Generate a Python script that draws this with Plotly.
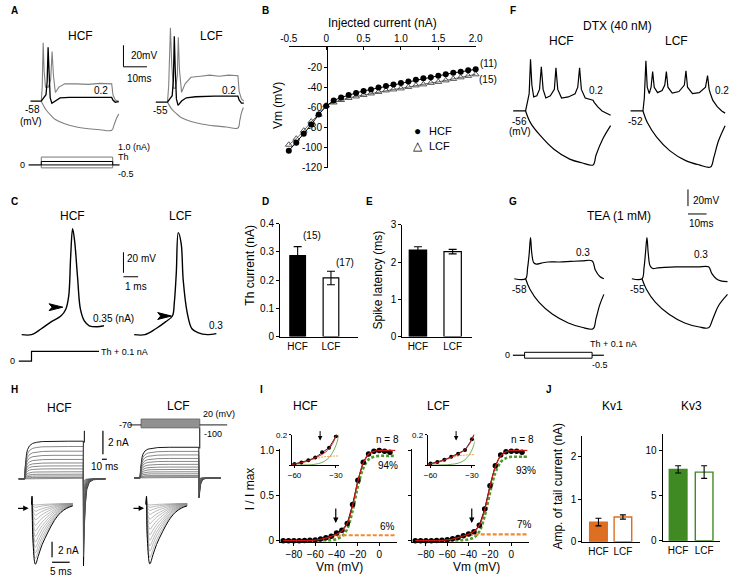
import plotly.graph_objects as go

W, H = 739, 582
FONT = "Liberation Sans, Arial, Helvetica, sans-serif"

# ======================= DATA =======================
# ---- Panel A : membrane potential (ms from pulse onset, mV) ----
A_hcf_t_02 = [-4.6, 0, 1.0, 2.0, 2.5, 2.9, 3.3, 3.8, 4.5, 6, 8, 12, 20, 30, 30.5, 31.5, 33]
A_hcf_v_02 = [-58, -58, -55, -52, -40, -8, -30, -55, -60, -58, -55, -54.5, -54.5, -54.5, -57, -59, -58.5]
A_hcf_t_10 = [0, 0.4, 0.8, 1.2, 1.8, 3.0, 4.0, 4.6, 5.2, 6.0, 7.5, 10, 15, 20, 25, 30, 30.5, 31.5, 33]
A_hcf_v_10 = [-58, -45, -4, -30, -45, -45, -38, -12, -35, -50, -45, -42, -42, -42.5, -41.5, -42, -52, -57, -58]
A_hcf_t_neg = [0, 2, 4, 6, 10, 15, 20, 25, 30, 31, 32, 33]
A_hcf_v_neg = [-58, -66, -71, -75, -79, -82, -83.5, -84.5, -85, -80, -74, -70]

A_lcf_t_02 = [-5, 0, 1.0, 2.0, 2.5, 2.9, 3.3, 3.8, 4.5, 6, 8, 12, 20, 30, 30.5, 31.5, 32.5]
A_lcf_v_02 = [-55, -55, -52, -49, -35, 6, -25, -52, -58, -54, -51, -50, -49.5, -49.5, -53, -56, -56]
A_lcf_t_10 = [0, 0.5, 1.25, 1.8, 2.5, 3.5, 4.2, 4.6, 5.1, 6, 7.5, 10, 14, 18, 22, 26, 30, 30.5, 31.5, 32.5]
A_lcf_v_10 = [-55, -40, 14, -20, -42, -42, -30, 5, -25, -46, -38, -32, -31, -30, -31, -30, -30.5, -45, -52, -54]
A_lcf_t_neg = [0, 2, 4, 6, 10, 15, 20, 25, 30, 30.8, 31.5, 32.3]
A_lcf_v_neg = [-55, -62, -66, -69.5, -73, -75.5, -77, -78, -79, -72, -65, -60]

# ---- Panel B : I-V relation ----
B_current = [-0.5, -0.4, -0.3, -0.2, -0.1, 0.0, 0.1, 0.2, 0.3, 0.4, 0.5, 0.6, 0.7, 0.8, 0.9,
             1.0, 1.1, 1.2, 1.3, 1.4, 1.5, 1.6, 1.7, 1.8, 1.9, 2.0]
B_vm_hcf = [-103, -95, -86, -77, -67, -58.5, -53, -50, -47.5, -45.5, -43.5, -42, -40, -38.5, -37,
            -35.5, -34, -32.5, -31, -30, -28.5, -27, -25.5, -24.5, -23, -22]
B_vm_lcf = [-97, -91, -83, -74, -67, -58, -55, -52.5, -50.5, -49, -47.5, -46, -44.5, -43, -42,
            -41, -39.5, -38, -37, -35.5, -34.5, -33, -31.5, -30, -28.5, -27]

# ---- Panel C : single spikes (ms from step, mV) ----
C_hcf_t = [-0.625, 0, 0.625, 1.25, 1.875, 2.19, 2.375, 2.5, 2.625, 2.75, 2.94, 3.125, 3.375, 3.69, 4.19, 4.625]
C_hcf_v = [-58, -58, -52.3, -45.6, -40, -33.3, -20.9, 17.2, 44.9, 33.5, -1.8, -33.3, -44.7, -49.4, -50.4, -49.4]
C_lcf_t = [-0.69, 0, 0.69, 1.31, 1.75, 1.875, 2.0, 2.125, 2.31, 2.44, 2.69, 3.0, 3.375, 4.0, 4.56]
C_lcf_v = [-55, -55, -49.3, -42.6, -36.9, -23.6, 5, 44, 33.6, -1.7, -33.1, -49.3, -53, -55, -54]

# ---- Panels D, E : bar charts ----
groups = ["HCF", "LCF"]
D_th_current = [0.287, 0.208]
D_th_err = [0.032, 0.024]
E_latency = [2.32, 2.28]
E_latency_err = [0.09, 0.06]

# ---- Panel F : DTX traces ----
F_hcf_t_dep = [-5.5, 0, 0.8, 1.6, 2.2, 2.8, 3.6, 5, 6.2, 7.0, 7.8, 9, 11, 12.8, 13.5, 14.3, 16, 19, 22,
               23.2, 24, 24.8, 26.5, 29, 30, 30.5, 32, 34, 36, 37.8]
F_hcf_v_dep = [-56, -56, -48, -40, -8, -32, -43, -42, -36, -15, -36, -44, -42, -36, -16, -36, -44, -43, -40,
               -34, -16, -36, -44, -45, -46, -48, -52, -56, -58.5, -60]
F_hcf_t_neg = [0, 2.2, 6.5, 12.6, 19.6, 25, 30, 31.3, 34.3, 37.8]
F_hcf_v_neg = [-56, -67, -78.7, -91.5, -100.6, -104, -106, -97, -82, -69.6]
F_lcf_t_dep = [-5.5, 0, 0.6, 1.3, 1.9, 2.8, 3.6, 4.3, 5.0, 6.5, 8.5, 9.7, 10.4, 11.1, 13, 16, 18.4, 19.1,
               19.8, 22, 25, 27.8, 28.7, 29.4, 30, 31, 33, 35, 36.5]
F_lcf_v_dep = [-52, -52, -40, -5.6, -30, -36, -30, -15.6, -30, -35, -33, -28, -15.6, -30, -35.5, -34, -28, -14.7,
               -30, -36, -35, -30, -19.3, -32, -36, -42, -48, -52, -54]
F_lcf_t_neg = [0, 2, 6, 12, 19, 25, 30, 31.5, 33.5, 36.5]
F_lcf_v_neg = [-52, -63, -76, -89, -98, -102, -104, -95, -80, -65.6]

# ---- Panel G : TEA traces ----
G_hcf_t_dep = [-5, 0, 0.9, 1.6, 2.2, 2.8, 3.6, 4.8, 7, 10, 15, 20, 25, 29.6, 31, 33, 34.8]
G_hcf_v_dep = [-58, -58, -48, -35, -20, -35, -43, -44.4, -43.5, -42.5, -42.5, -42, -41.5, -41.5, -50, -56, -58]
G_hcf_t_neg = [0, 2, 6, 12, 19, 25, 30, 31.3, 33, 34.8]
G_hcf_v_neg = [-58, -68, -80, -91, -99, -103, -104.4, -95, -82, -72.5]
G_lcf_t_dep = [-4.5, 0, 0.9, 1.6, 2.2, 2.8, 3.6, 4.8, 7, 10, 15, 20, 25, 29.6, 31, 33, 35, 38]
G_lcf_v_dep = [-55, -55, -45, -30, -16.8, -32, -43, -45.5, -45, -44.5, -44, -44, -44, -44, -50, -55, -57, -57.7]
G_lcf_t_neg = [0, 2, 6, 12, 19, 25, 29.6, 31.5, 34, 38]
G_lcf_v_neg = [-55, -65, -77, -88, -96, -99.5, -100.5, -92, -80, -69.5]

# ---- Panel H : K+ currents (nA) ----
H_rise_t = [0, 1, 2, 4, 6, 10, 16, 24, 36, 60, 90, 120]
H_rise_shape = [0, 0.3, 0.5, 0.68, 0.78, 0.88, 0.94, 0.97, 0.99, 1.0, 1.0, 1.0]
H_tailmain_t = [0.3, 1, 2, 4, 7, 12, 20, 45]
H_tailmain_shape = [1.0, 0.8, 0.55, 0.3, 0.12, 0.04, 0.01, 0]
H_hcf_steady = [3.2, 2.75, 2.35, 2.0, 1.65, 1.35, 1.1, 0.85, 0.6, 0.4, 0.25, 0.12, 0.05]
H_hcf_tail_main = [7.4, 6.6, 5.8, 5.0, 4.3, 3.6, 2.9, 2.3, 1.7, 1.2, 0.8, 0.4, 0.2]
H_lcf_steady = [2.6, 2.25, 1.95, 1.65, 1.4, 1.15, 0.92, 0.72, 0.52, 0.35, 0.2, 0.1, 0.04]
H_lcf_tail_main = [1.7, 1.5, 1.3, 1.15, 1.0, 0.85, 0.7, 0.55, 0.42, 0.3, 0.2, 0.1, 0.05]
H_tail_t = [0, 0.15, 0.4, 1.1, 2, 3, 4.7, 6.5, 8.3, 10, 11.7]
H_tail_shape = [0.02, -0.12, 0.6, 1.0, 0.85, 0.68, 0.47, 0.28, 0.15, 0.08, 0.04]
H_hcf_tail = [7.75, 7.0, 6.3, 5.6, 4.9, 4.2, 3.5, 2.8, 2.1, 1.5, 1.0, 0.5, 0.2]
H_lcf_tail = [7.7, 6.9, 6.1, 5.4, 4.7, 4.0, 3.3, 2.6, 2.0, 1.4, 0.9, 0.5, 0.2]

# ---- Panel I : activation curves ----
I_vm = [-90, -85, -80, -75, -70, -65, -60, -55, -50, -45, -40, -35, -30, -25, -20, -15, -10, -5, 0, 5, 10]
I_hcf = [0, 0, 0, 0, 0.002, 0.004, 0.008, 0.018, 0.032, 0.05, 0.085, 0.115, 0.19, 0.40, 0.67, 0.87, 0.96, 0.99, 1.0, 0.99, 0.98]
I_lcf = [0, 0, 0, 0, 0.002, 0.005, 0.01, 0.02, 0.035, 0.055, 0.075, 0.10, 0.17, 0.35, 0.61, 0.83, 0.95, 0.985, 0.99, 0.99, 0.98]
I_vfit = [-90, -85, -80, -75, -70, -65, -60, -55, -50, -45, -40, -35, -30, -25, -20, -15, -10, -5, 0, 5, 10, 15]
I_hcf_fit = [0, 0, 0, 0, 0.001, 0.003, 0.007, 0.016, 0.029, 0.048, 0.071, 0.108, 0.19, 0.39, 0.66, 0.86, 0.96, 0.99, 1.0, 1.0, 1.0, 1.0]
I_hcf_kv3 = [0, 0, 0, 0, 0, 0, 0, 0.001, 0.002, 0.006, 0.018, 0.05, 0.13, 0.33, 0.60, 0.80, 0.90, 0.93, 0.94, 0.94, 0.94, 0.94]
I_hcf_kv1 = [0, 0, 0, 0, 0.001, 0.003, 0.007, 0.015, 0.027, 0.042, 0.053, 0.058, 0.06, 0.06, 0.06, 0.06, 0.06, 0.06, 0.06, 0.06, 0.06, 0.06]
I_lcf_fit = [0, 0, 0, 0, 0.001, 0.003, 0.008, 0.018, 0.033, 0.052, 0.073, 0.102, 0.169, 0.34, 0.60, 0.82, 0.94, 0.985, 1.0, 1.0, 1.0, 1.0]
I_lcf_kv3 = [0, 0, 0, 0, 0, 0, 0, 0.001, 0.002, 0.005, 0.013, 0.036, 0.10, 0.27, 0.53, 0.75, 0.87, 0.915, 0.93, 0.93, 0.93, 0.93]
I_lcf_kv1 = [0, 0, 0, 0, 0.001, 0.003, 0.008, 0.017, 0.031, 0.047, 0.06, 0.066, 0.069, 0.07, 0.07, 0.07, 0.07, 0.07, 0.07, 0.07, 0.07, 0.07]

# ---- Panel J : tail current amplitudes ----
J_kv1 = [0.46, 0.58]
J_kv1_err = [0.09, 0.05]
J_kv3 = [7.9, 7.6]
J_kv3_err = [0.4, 0.7]

ORANGE = "#dd6e22"
ORANGE_D = "#f08a2c"
GREEN = "#3f8a22"
GREEN_D = "#4f9a2a"
RED = "#d01515"
GRAY = "#808080"

# ======================= HELPERS =======================
fig = go.Figure()
layout = {}
shapes = []
annotations = []
axn = [0]


def add_axes(px, py, xr, yr, xkw=None, ykw=None):
    axn[0] += 1
    n = axn[0]
    s = '' if n == 1 else str(n)
    xa = dict(domain=[px[0] / W, px[1] / W], range=xr, anchor='y' + s, visible=False,
              showgrid=False, zeroline=False, fixedrange=True)
    ya = dict(domain=[1 - py[1] / H, 1 - py[0] / H], range=yr, anchor='x' + s, visible=False,
              showgrid=False, zeroline=False, fixedrange=True)
    if xkw:
        xa.update(xkw)
    if ykw:
        ya.update(ykw)
    layout['xaxis' + s] = xa
    layout['yaxis' + s] = ya
    return 'x' + s, 'y' + s


def trace_axes(px, py, x0px, x0, ppx, y0px, y0, ppy):
    xr = [x0 + (px[0] - x0px) / ppx, x0 + (px[1] - x0px) / ppx]
    yr = [y0 - (py[1] - y0px) / ppy, y0 + (y0px - py[0]) / ppy]
    return add_axes(px, py, xr, yr)


def vis_axis(**kw):
    d = dict(visible=True, showline=True, linecolor='black', linewidth=1, ticks='outside',
             ticklen=3, tickwidth=1, tickcolor='black', tickfont=dict(size=10, family=FONT, color='black'))
    d.update(kw)
    return d


def line(ax, x, y, color='black', width=1.1, dash=None, shape='linear', mode='lines', marker=None, clip=False):
    fig.add_trace(go.Scatter(x=x, y=y, xaxis=ax[0], yaxis=ax[1], mode=mode,
                             line=dict(color=color, width=width, dash=dash, shape=shape),
                             marker=marker, showlegend=False, hoverinfo='skip', cliponaxis=clip))


def P(x, y):
    return x / W, 1 - y / H


def pl(x0, y0, x1, y1, color='black', width=1):
    a, b = P(x0, y0)
    c, d = P(x1, y1)
    shapes.append(dict(type='line', xref='paper', yref='paper', x0=a, y0=b, x1=c, y1=d,
                       line=dict(color=color, width=width)))


def rect(x0, y0, x1, y1, color='black', width=1, fill='rgba(0,0,0,0)'):
    a, b = P(x0, y1)
    c, d = P(x1, y0)
    shapes.append(dict(type='rect', xref='paper', yref='paper', x0=a, y0=b, x1=c, y1=d,
                       line=dict(color=color, width=width), fillcolor=fill))


def poly(pts, fill='black', color='black', width=1, closed=True):
    s = ''
    for i, (x, y) in enumerate(pts):
        a, b = P(x, y)
        s += ('M' if i == 0 else 'L') + f' {a:.5f},{b:.5f} '
    if closed:
        s += 'Z'
    shapes.append(dict(type='path', xref='paper', yref='paper', path=s,
                       fillcolor=fill if closed else 'rgba(0,0,0,0)', line=dict(color=color, width=width)))


def txt(s, x, y, size=10, xa='center', ya='middle', bold=False, angle=0, color='black'):
    a, b = P(x, y)
    annotations.append(dict(text=('<b>' + s + '</b>' if bold else s), x=a, y=b, xref='paper', yref='paper',
                            showarrow=False, xanchor=xa, yanchor=ya, textangle=angle,
                            font=dict(size=size, family=FONT, color=color), borderpad=0))


def arrow(xt, yt, xs, ys, width=1.2, size=0.9):
    a, b = P(xt, yt)
    annotations.append(dict(text='', x=a, y=b, xref='paper', yref='paper', showarrow=True,
                            ax=xs - xt, ay=ys - yt, arrowhead=2, arrowsize=size, arrowwidth=width,
                            arrowcolor='black'))


# ======================= PANEL A =======================
axA1 = trace_axes((15, 116), (20, 140), 33, 0, 2.4, 98, -58, 1.1)
line(axA1, A_hcf_t_neg, A_hcf_v_neg, GRAY, 1.1, shape='spline')
line(axA1, A_hcf_t_10, A_hcf_v_10, GRAY, 1.1)
line(axA1, A_hcf_t_02, A_hcf_v_02, 'black', 1.3)
axA2 = trace_axes((145, 245), (15, 140), 162, 0, 2.4, 99, -55, 1.1)
line(axA2, A_lcf_t_neg, A_lcf_v_neg, GRAY, 1.1, shape='spline')
line(axA2, A_lcf_t_10, A_lcf_v_10, GRAY, 1.1)
line(axA2, A_lcf_t_02, A_lcf_v_02, 'black', 1.3)

txt('A', 6, 6, 10, bold=True)
txt('HCF', 73, 32, 12)
txt('LCF', 207, 32, 12)
pl(117, 41, 117, 63)
pl(117, 63, 141, 63)
txt('20mV', 124, 51, 10, xa='left')
txt('10ms', 120, 75, 10, xa='left')
txt('0.2', 94, 87, 10)
txt('0.2', 225, 87, 10)
txt('-58', 24, 107, 10)
txt('(mV)', 22, 119, 10)
txt('-55', 155, 108, 10)
# stimulus schematic
rect(33, 155, 106, 166, color='#777777', width=1)
rect(33, 159.5, 106, 163, color='black', width=1)
pl(20, 163, 33, 163, width=1.2)
pl(106, 163, 113, 163, width=1.2)
txt('0', 14, 163, 9)
txt('1.0 (nA)', 110, 144.5, 9, xa='left')
txt('Th', 110, 155, 9, xa='left')
txt('-0.5', 110, 172, 9, xa='left')

# ======================= PANEL B =======================
axB = add_axes((286, 477), (43, 166), [-0.5, 2.0], [-120, 0],
               xkw=vis_axis(side='top', ticks='inside', tickvals=[-0.5, 0, 0.5, 1, 1.5, 2],
                            ticktext=['-0.5', '0', '0.5', '1.0', '1.5', '2.0']),
               ykw=vis_axis(anchor='free', position=325 / W, tickvals=[-20, -40, -60, -80, -100, -120],
                            ticktext=['-20', '-40', '-60', '-80', '-100', '-120']))
line(axB, B_current, B_vm_lcf, '#444444', 0.8, mode='lines+markers',
     marker=dict(symbol='triangle-up-open', size=6, color='#444444', line=dict(width=0.9)))
line(axB, B_current, B_vm_hcf, 'black', 1, mode='lines+markers',
     marker=dict(symbol='circle', size=6, color='black'))
txt('B', 262, 6, 10, bold=True)
txt('Injected current (nA)', 382, 18, 12)
txt('Vm (mV)', 275, 103, 12, angle=-90)
txt('(11)', 490, 60, 10)
txt('(15)', 490, 76, 10)
txt('●', 418, 128, 12)
txt('HCF', 428, 128, 11, xa='left')
txt('△', 418, 144, 12)
txt('LCF', 428, 144, 11, xa='left')

# ======================= PANEL C =======================
axC1 = trace_axes((8, 100), (215, 345), 23, 0, 16, 336, -58, 1.05)
line(axC1, C_hcf_t, C_hcf_v, 'black', 1.4, shape='spline')
axC2 = trace_axes((122, 215), (215, 345), 139, 0, 16, 336, -55, 1.05)
line(axC2, C_lcf_t, C_lcf_v, 'black', 1.4, shape='spline')
txt('C', 6, 200, 10, bold=True)
txt('HCF', 65, 215, 12)
txt('LCF', 175, 215, 12)
pl(117, 252, 117, 273)
pl(117, 277, 132, 277)
txt('20 mV', 120, 258, 10, xa='left')
txt('1 ms', 118, 287, 10, xa='left')
txt('0.35 (nA)', 85, 320, 10, xa='left')
txt('0.3', 203, 327, 10, xa='left')
poly([(41, 304.5), (55, 308), (41, 311.5), (44, 308)])
poly([(152, 313.5), (166, 317), (152, 320.5), (155, 317)])
poly([(10, 363), (23, 363), (23, 353), (92, 353)], closed=False, width=1.2)
txt('0', 4, 363, 9)
txt('Th + 0.1 nA', 93, 354, 9, xa='left')

# ======================= PANEL D =======================
axD = add_axes((277, 357), (223, 338), [-0.53, 1.82], [0, 0.4],
               xkw=vis_axis(ticks='', tickvals=[0, 1], ticktext=groups),
               ykw=vis_axis(tickvals=[0, 0.1, 0.2, 0.3, 0.4], ticktext=['0', '0.1', '0.2', '0.3', '0.4']))
fig.add_trace(go.Bar(x=[0, 1], y=D_th_current, width=0.47, xaxis=axD[0], yaxis=axD[1], showlegend=False,
                     marker=dict(color=['black', 'white'], line=dict(color='black', width=1.2)),
                     error_y=dict(type='data', array=D_th_err, color='black', thickness=1.1, width=4),
                     hoverinfo='skip'))
txt('D', 262, 200, 10, bold=True)
txt('Th current (nA)', 246, 265, 12, angle=-90)
txt('(15)', 310, 235, 10)
txt('(17)', 343, 262, 10)

# ======================= PANEL E =======================
axE = add_axes((402, 473), (224, 338), [-0.45, 1.55], [0, 3],
               xkw=vis_axis(ticks='', tickvals=[0, 1], ticktext=groups),
               ykw=vis_axis(tickvals=[0, 1, 2, 3]))
fig.add_trace(go.Bar(x=[0, 1], y=E_latency, width=0.5, xaxis=axE[0], yaxis=axE[1], showlegend=False,
                     marker=dict(color=['black', 'white'], line=dict(color='black', width=1.2)),
                     error_y=dict(type='data', array=E_latency_err, color='black', thickness=1.1, width=4),
                     hoverinfo='skip'))
txt('E', 368, 200, 10, bold=True)
txt('Spike latency (ms)', 377, 280, 12, angle=-90)

# ======================= PANEL F =======================
axF1 = trace_axes((508, 622), (45, 172), 528, 0, 2.3, 108, -56, 1.1)
line(axF1, F_hcf_t_neg, F_hcf_v_neg, 'black', 1.2, shape='spline')
line(axF1, F_hcf_t_dep, F_hcf_v_dep, 'black', 1.2)
axF2 = trace_axes((628, 739), (45, 172), 648, 0, 2.3, 108, -52, 1.1)
line(axF2, F_lcf_t_neg, F_lcf_v_neg, 'black', 1.2, shape='spline')
line(axF2, F_lcf_t_dep, F_lcf_v_dep, 'black', 1.2)
txt('F', 515, 6, 10, bold=True)
txt('DTX (40 nM)', 622, 21, 12)
txt('HCF', 565, 37, 12)
txt('LCF', 682, 37, 12)
txt('0.2', 600, 87, 10)
txt('0.2', 729, 87, 10)
txt('-56', 522, 119, 10)
txt('(mV)', 522, 129, 10)
txt('-52', 640, 119, 10)

# ======================= PANEL G =======================
axG1 = trace_axes((508, 622), (225, 340), 528, 0, 2.3, 279, -58, 1.1)
line(axG1, G_hcf_t_neg, G_hcf_v_neg, 'black', 1.2, shape='spline')
line(axG1, G_hcf_t_dep, G_hcf_v_dep, 'black', 1.2, shape='spline')
axG2 = trace_axes((628, 739), (225, 340), 647, 0, 2.3, 279, -55, 1.1)
line(axG2, G_lcf_t_neg, G_lcf_v_neg, 'black', 1.2, shape='spline')
line(axG2, G_lcf_t_dep, G_lcf_v_dep, 'black', 1.2, shape='spline')
txt('G', 515, 200, 10, bold=True)
txt('TEA (1 mM)', 623, 215, 12)
txt('0.3', 587, 252, 10)
txt('0.3', 707, 254, 10)
txt('-58', 522, 290, 10)
txt('-55', 642, 290, 10)
pl(694, 188, 694, 205)
pl(694, 213, 713, 213)
txt('20mV', 698, 199, 10, xa='left')
txt('10ms', 707, 223, 10)
pl(515, 357, 527, 357, width=1.2)
rect(527, 354, 596, 360, color='black', width=1)
pl(596, 357, 608, 357, width=1.2)
txt('0', 510, 357, 9)
txt('Th + 0.1 nA', 593, 346, 9, xa='left')
txt('-0.5', 595, 367, 9, xa='left')

# ======================= PANEL H =======================
axH1 = trace_axes((8, 100), (436, 580), 16, 0, 0.5, 483, 0, 12)
axH2 = trace_axes((126, 232), (436, 580), 134, 0, 0.5, 482, 0, 12)
for ax, steady, tails in ((axH1, H_hcf_steady, H_hcf_tail_main), (axH2, H_lcf_steady, H_lcf_tail_main)):
    for i, (a, tl) in enumerate(zip(steady, tails)):
        xs = [-12] + H_rise_t + [120 + t for t in H_tailmain_t]
        ys = [0] + [a * s for s in H_rise_shape] + [-tl * s for s in H_tailmain_shape]
        line(ax, xs, ys, 'black' if i == 0 else '#555555', 0.9 if i == 0 else 0.7)
axH3 = trace_axes((20, 70), (492, 580), 23, 0, 3.6, 508, 0, 8)
axH4 = trace_axes((137, 187), (492, 580), 140, 0, 3.6, 508, 0, 8)
for ax, tails in ((axH3, H_hcf_tail), (axH4, H_lcf_tail)):
    for i, a in reversed(list(enumerate(tails))):
        line(ax, H_tail_t, [-a * s for s in H_tail_shape], 'black' if i == 0 else '#8a8a8a',
             1.0 if i == 0 else 0.6, shape='spline')
pl(77, 434, 77, 446, width=1)
pl(195, 431, 195, 452, width=1)
txt('H', 6, 392, 10, bold=True)
txt('HCF', 52, 411, 12)
txt('LCF', 173, 409, 12)
rect(135, 422, 195, 431, color='#555555', width=0.8, fill='#9d9d9d')
for yy in (424, 426, 428, 430):
    pl(135, yy, 195, yy, color='#6f6f6f', width=0.5)
pl(123, 428, 135, 428, width=0.9)
pl(195, 428, 223, 428, width=0.9)
txt('-70', 119, 428, 9)
txt('20 (mV)', 215, 417, 9)
txt('-100', 198, 437, 9, xa='left')
pl(96, 434, 96, 458, width=1.2)
pl(95, 463, 100, 463, width=1.2)
txt('2 nA', 100, 446, 10, xa='left')
txt('10 ms', 98, 470, 10)
pl(44, 547, 44, 563, width=1.2)
pl(44, 568, 62, 568, width=1.2)
txt('2 nA', 49, 556, 10, xa='left')
txt('5 ms', 53, 577, 10)
arrow(20, 513, 8, 513)
arrow(138, 513, 126, 513)

# ======================= PANEL I =======================
def i_panel(px, vdata, idata, fit, kv3, kv1, ylabels):
    ax = add_axes(px, (453, 547), [-93, 17], [-0.011, 1.011],
                  xkw=vis_axis(tickvals=[-80, -60, -40, -20, 0]),
                  ykw=vis_axis(tickvals=[0, 0.5, 1.0], ticktext=['0', '0.5', '1.0'], showticklabels=ylabels))
    line(ax, I_vfit, kv3, GREEN_D, 2.6, dash='3px,2px', shape='spline')
    line(ax, I_vfit, kv1, ORANGE_D, 2.2, dash='4px,2px', shape='spline')
    line(ax, vdata, idata, 'black', 1.0, mode='lines+markers', marker=dict(size=5.5, color='black'))
    line(ax, I_vfit, fit, RED, 1.2, shape='spline')
    return ax


def i_inset(px, vdata, idata, fit, kv3, kv1):
    ax = add_axes(px, (438, 469), [-62, -28], [0, 0.2],
                  xkw=vis_axis(tickvals=[-60, -30], ticklen=2, tickfont=dict(size=8, family=FONT, color='black')),
                  ykw=vis_axis(tickvals=[0, 0.2], ticktext=['', '0.2'], ticklen=2,
                               tickfont=dict(size=8, family=FONT, color='black')))
    line(ax, I_vfit, kv3, GREEN_D, 0.8, shape='spline', clip=True)
    line(ax, I_vfit, kv1, ORANGE_D, 0.8, dash='2px,1px', shape='spline', clip=True)
    line(ax, vdata, idata, 'black', 0.8, mode='lines+markers', marker=dict(size=4, color='black'), clip=True)
    line(ax, I_vfit, fit, RED, 1.0, shape='spline', clip=True)
    return ax


i_panel((277, 397), I_vm, I_hcf, I_hcf_fit, I_hcf_kv3, I_hcf_kv1, True)
i_panel((412, 532), I_vm, I_lcf, I_lcf_fit, I_lcf_kv3, I_lcf_kv1, False)
i_inset((289, 337), I_vm, I_hcf, I_hcf_fit, I_hcf_kv3, I_hcf_kv1)
i_inset((428, 476), I_vm, I_lcf, I_lcf_fit, I_lcf_kv3, I_lcf_kv1)
txt('I', 258, 392, 10, bold=True)
txt('HCF', 303, 409, 12)
txt('LCF', 439, 409, 12)
txt('n = 8', 387, 443, 10)
txt('n = 8', 525, 443, 10)
txt('94%', 387, 469, 10)
txt('6%', 387, 532, 10)
txt('93%', 528, 474, 10)
txt('7%', 527, 530, 10)
txt('Vm (mV)', 338, 573, 12)
txt('Vm (mV)', 478, 573, 12)
txt('I / I max', 246, 493, 12, angle=-90)
arrow(334, 528, 334, 512)
arrow(473, 528, 473, 512)
arrow(318, 444, 318, 433, width=1.0)
arrow(457, 444, 457, 433, width=1.0)

# ======================= PANEL J =======================
axJ1 = add_axes((586, 645), (439, 547), [-0.66, 1.7], [0, 2.49],
                xkw=vis_axis(ticks='', tickvals=[0, 1], ticktext=groups),
                ykw=vis_axis(tickvals=[0, 1, 2]))
fig.add_trace(go.Bar(x=[0, 1], y=J_kv1, width=0.72, xaxis=axJ1[0], yaxis=axJ1[1], showlegend=False,
                     marker=dict(color=[ORANGE, 'white'], line=dict(color=ORANGE, width=1.4)),
                     error_y=dict(type='data', array=J_kv1_err, color='black', thickness=1.1, width=3),
                     hoverinfo='skip'))
axJ2 = add_axes((668, 727), (437, 546), [-0.6, 1.62], [0, 11.85],
                xkw=vis_axis(ticks='', tickvals=[0, 1], ticktext=groups),
                ykw=vis_axis(tickvals=[0, 5, 10]))
fig.add_trace(go.Bar(x=[0, 1], y=J_kv3, width=0.68, xaxis=axJ2[0], yaxis=axJ2[1], showlegend=False,
                     marker=dict(color=[GREEN, 'white'], line=dict(color=GREEN, width=1.4)),
                     error_y=dict(type='data', array=J_kv3_err, color='black', thickness=1.1, width=3),
                     hoverinfo='skip'))
txt('J', 552, 392, 10, bold=True)
txt('Kv1', 617, 409, 12)
txt('Kv3', 698, 409, 12)
txt('Amp. of tail current (nA)', 561, 490, 12, angle=-90)

layout.update(dict(width=W, height=H, margin=dict(l=0, r=0, t=0, b=0), paper_bgcolor='white',
                   plot_bgcolor='rgba(0,0,0,0)', showlegend=False, shapes=shapes, annotations=annotations,
                   font=dict(family=FONT, size=10, color='black'), bargap=0, hovermode=False))
fig.update_layout(**layout)
fig.write_html("out.html", config={'displayModeBar': False, 'staticPlot': True},
               post_script="document.body.style.margin='0';document.body.style.padding='0';"
                           "document.body.style.overflow='hidden';")
